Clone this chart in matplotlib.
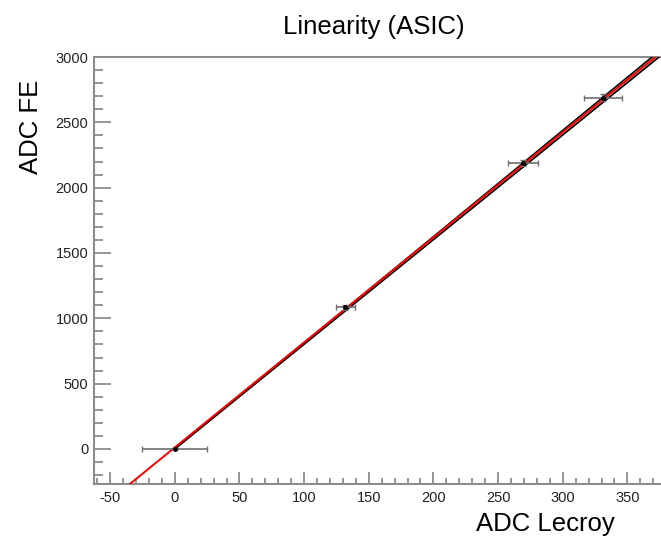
import numpy as np
import matplotlib
matplotlib.use("Agg")
import matplotlib.pyplot as plt
from matplotlib.ticker import MultipleLocator

plt.rcParams['font.family'] = ['Liberation Sans', 'DejaVu Sans']
plt.rcParams['axes.unicode_minus'] = False

# data points (ADC Lecroy vs ADC FE)
x_vals = [0, 132, 269, 331]
y_vals = [0, 1085, 2190, 2690]
x_errs = [25, 7, 11.5, 14.5]
y_errs = [0, 20, 25, 25]

# fitted curves
red_poly = [12.0, 8.04, 0.00001]      # c0, c1, c2
black_slopes = [8.01, 8.13]            # two linear lines from origin

W, H = 661, 540
fig = plt.figure(figsize=(W / 100, H / 100), dpi=100)
ax = fig.add_axes([94 / W, 56 / H, (661 - 94) / W, (484 - 57) / H])

xmin, xmax = -62.5, 376
ymin, ymax = -268, 3000
ax.set_xlim(xmin, xmax)
ax.set_ylim(ymin, ymax)

# black band
xb = np.linspace(0, xmax, 200)
lo = black_slopes[0] * xb
hi = black_slopes[1] * xb
ax.fill_between(xb, lo, hi, color='#9a9a9a', lw=0, zorder=2)
ax.plot(xb, lo, color='black', lw=1.1, zorder=3)
ax.plot(xb, hi, color='black', lw=1.1, zorder=3)

# red fit
xr = np.linspace(xmin, xmax, 400)
yr = red_poly[0] + red_poly[1] * xr + red_poly[2] * xr ** 2
ax.plot(xr, yr, color='#ff0000', lw=1.4, zorder=4)

# data with error bars
ax.errorbar(x_vals, y_vals, xerr=x_errs, yerr=y_errs, fmt='o', ms=2.5,
            color='black', ecolor='#707070', elinewidth=1.2, capsize=2.5,
            capthick=1.0, zorder=5)

grey = '#8c8c8c'
for s in ['left', 'bottom', 'top']:
    ax.spines[s].set_color(grey)
    ax.spines[s].set_linewidth(1.5)
ax.spines['right'].set_visible(False)

ax.xaxis.set_major_locator(MultipleLocator(50))
ax.xaxis.set_minor_locator(MultipleLocator(10))
ax.yaxis.set_major_locator(MultipleLocator(500))
ax.yaxis.set_minor_locator(MultipleLocator(100))
ax.tick_params(axis='x', which='major', direction='in', length=9, width=1.3,
               color=grey, labelsize=10.5, pad=5, top=False)
ax.tick_params(axis='x', which='minor', direction='in', length=4.5, width=1.3,
               color=grey, top=False)
ax.tick_params(axis='y', which='major', direction='in', length=12.5, width=1.3,
               color=grey, labelsize=10.5, pad=4, right=False)
ax.tick_params(axis='y', which='minor', direction='in', length=6.5, width=1.3,
               color=grey, right=False)
for lab in ax.get_xticklabels() + ax.get_yticklabels():
    lab.set_color('#222222')

fig.text(374 / W, 1 - 27 / H, 'Linearity (ASIC)', ha='center', va='center',
         fontsize=18.5)
fig.text(615 / W, 1 - 524 / H, 'ADC Lecroy', ha='right', va='center',
         fontsize=18.5)
fig.text(31 / W, 1 - 80 / H, 'ADC FE', ha='center', va='top', rotation=90,
         fontsize=18.5)

fig.savefig('out.png', dpi=100)
